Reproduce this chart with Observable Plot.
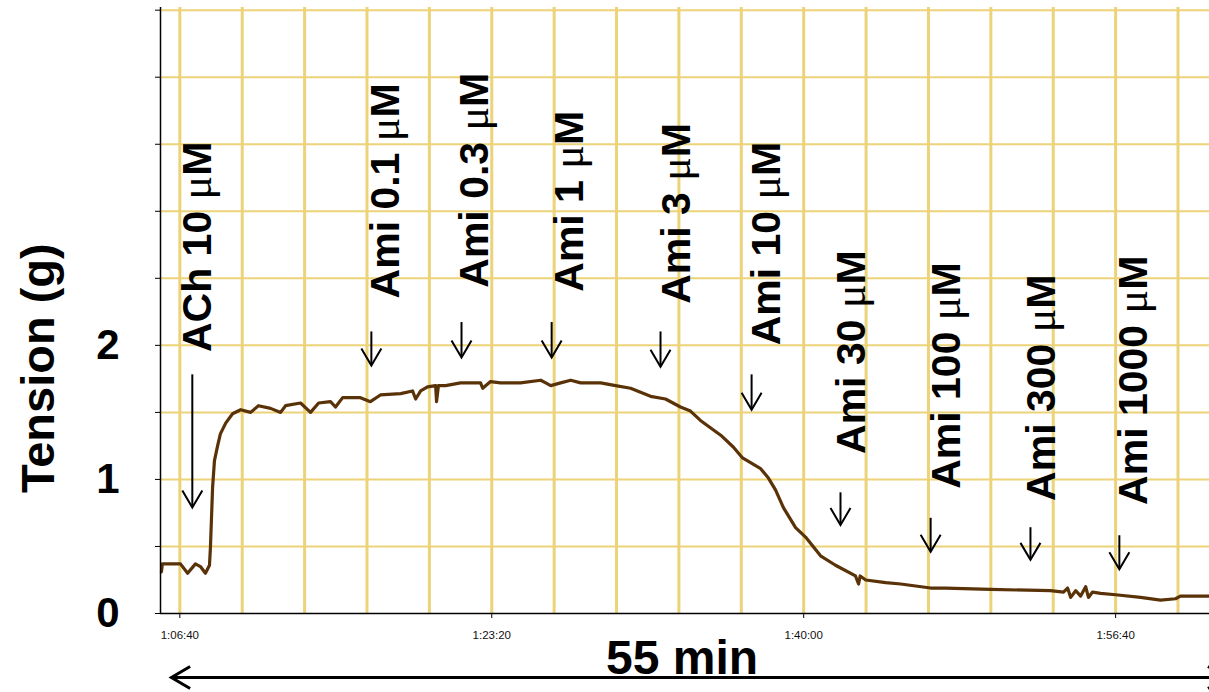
<!DOCTYPE html>
<html>
<head>
<meta charset="utf-8">
<script src="https://cdn.jsdelivr.net/npm/d3@7"></script>
<script src="https://cdn.jsdelivr.net/npm/@observablehq/plot@0.6"></script>
<style>
  html, body { margin: 0; padding: 0; background: #fff; }
  #chart svg { display: block; }
</style>
</head>
<body>
<div id="chart"></div>
<script>
// ---- Data (time in seconds, tension in g) ----
const timeS = [3941, 3944, 3970, 4002, 4025, 4050, 4066, 4082, 4095, 4098,
  4105, 4111, 4121, 4130, 4147, 4169, 4195, 4227, 4252, 4291,
  4323, 4339, 4387, 4419, 4445, 4483, 4499, 4522, 4579, 4611,
  4643, 4708, 4746, 4756, 4772, 4794, 4820, 4823, 4829, 4852,
  4900, 4964, 4971, 4996, 5028, 5092, 5157, 5173, 5189, 5221,
  5253, 5285, 5349, 5397, 5445, 5477, 5509, 5557, 5605, 5637,
  5669, 5734, 5775, 5804, 5862, 5887, 5910, 5935, 5974, 6006,
  6054, 6102, 6166, 6176, 6181, 6199, 6263, 6311, 6407, 6455,
  6599, 6791, 6833, 6846, 6856, 6872, 6888, 6904, 6913, 6926,
  6952, 7000, 7080, 7144, 7192, 7208, 7301];
const tension = [0.31, 0.37, 0.37, 0.37, 0.30, 0.37, 0.35, 0.30, 0.36, 0.49,
  0.94, 1.14, 1.25, 1.34, 1.42, 1.49, 1.52, 1.50, 1.55, 1.53,
  1.50, 1.55, 1.57, 1.50, 1.57, 1.58, 1.54, 1.61, 1.61, 1.58,
  1.63, 1.64, 1.66, 1.60, 1.66, 1.69, 1.70, 1.58, 1.70, 1.70,
  1.72, 1.72, 1.68, 1.73, 1.72, 1.72, 1.74, 1.72, 1.70, 1.72,
  1.74, 1.72, 1.72, 1.70, 1.68, 1.65, 1.62, 1.60, 1.54, 1.51,
  1.44, 1.33, 1.24, 1.16, 1.08, 1.01, 0.92, 0.79, 0.64, 0.57,
  0.43, 0.36, 0.28, 0.22, 0.28, 0.25, 0.23, 0.22, 0.19, 0.19,
  0.18, 0.17, 0.16, 0.19, 0.12, 0.17, 0.13, 0.20, 0.12, 0.16,
  0.15, 0.14, 0.12, 0.10, 0.11, 0.13, 0.13];

// axis ticks
const timeTicks = [4000, 5000, 6000, 7000];
const timeGrid = [4000, 4200, 4400, 4600, 4800, 5000, 5200, 5400, 5600, 5800,
  6000, 6200, 6400, 6600, 6800, 7000, 7200];
const tensionTicks = [0, 0.5, 1, 1.5, 2, 2.5, 3, 3.5, 4, 4.5];
const tensionGrid = [0.5, 1, 1.5, 2, 2.5, 3, 3.5, 4, 4.5];
const tensionLabeled = [0, 1, 2];
const timeDomain = [3938, 7301];
const tensionDomain = [0, 4.52];

// drug additions
const drugLabels = ["ACh 10 μM", "Ami 0.1 μM", "Ami 0.3 μM", "Ami 1 μM", "Ami 3 μM",
  "Ami 10 μM", "Ami 30 μM", "Ami 100 μM", "Ami 300 μM", "Ami 1000 μM"];
const labelTime = [4057, 4660, 4945, 5249, 5592, 5881, 6154, 6458, 6763, 7058];
const labelTension = [1.95, 2.35, 2.43, 2.40, 2.31, 2.00, 1.19, 0.93, 0.84, 0.81];
const arrowTime = [4040, 4614, 4903, 5192, 5541, 5833, 6118, 6407, 6727, 7012];
const arrowTop = [1.78, 2.10, 2.17, 2.17, 2.10, 1.78, 0.90, 0.71, 0.64, 0.58];
const arrowTip = [0.79, 1.85, 1.91, 1.91, 1.84, 1.52, 0.66, 0.46, 0.40, 0.33];

// span annotation
const spanLabel = "55 min";
const spanStart = 3973;
const spanEnd = 7356;
const spanLabelTime = 5610;
const yTitle = "Tension (g)";
const yTitleTension = 1.83;

// ---- Build ----
const trace = timeS.map((t, i) => ({t, v: tension[i]}));
const drugs = drugLabels.map((label, i) => ({
  label, lt: labelTime[i], lv: labelTension[i], at: arrowTime[i], top: arrowTop[i], tip: arrowTip[i]
}));

const fmtTime = (s) => {
  const h = Math.floor(s / 3600), m = Math.floor((s % 3600) / 60), sec = s % 60;
  return `${h}:${String(m).padStart(2, "0")}:${String(sec).padStart(2, "0")}`;
};

// open V arrowhead, tip at origin, pointing down
const chevron = {
  draw(ctx, size) {
    const r = Math.sqrt(size / Math.PI);
    ctx.moveTo(-r, -1.7 * r);
    ctx.lineTo(0, 0);
    ctx.lineTo(r, -1.7 * r);
  }
};

const FONT = "'Liberation Sans', Arial, Helvetica, sans-serif";
const GRID = "#ecd379";
const TRACE = "#5a3208";

const chart = Plot.plot({
  width: 1209,
  height: 692,
  marginLeft: 160,
  marginRight: 0,
  marginTop: 7,
  marginBottom: 79,
  style: {fontFamily: FONT, fontSize: "11px", background: "#fff", color: "#000"},
  x: {type: "linear", domain: timeDomain},
  y: {type: "linear", domain: tensionDomain},
  marks: [
    Plot.gridX(timeGrid, {stroke: GRID, strokeOpacity: 1, strokeWidth: 3}),
    Plot.gridY(tensionGrid, {stroke: GRID, strokeOpacity: 1, strokeWidth: 2}),
    Plot.line(trace, {x: "t", y: "v", stroke: TRACE, strokeWidth: 3.2, strokeLinejoin: "round"}),
    Plot.ruleY([0], {stroke: "#000", strokeWidth: 1.5}),
    Plot.ruleX([timeDomain[0]], {stroke: "#000", strokeWidth: 1.5}),
    Plot.axisX({ticks: timeTicks, tickFormat: fmtTime, tickSize: 5, tickPadding: 12,
      fontSize: 11.5, label: null, stroke: "#000", fill: "#111"}),
    Plot.axisY({ticks: tensionTicks, tickFormat: (d) => tensionLabeled.includes(d) ? String(d) : "",
      tickSize: 5, tickPadding: 36, fontSize: 42, fontWeight: "bold", label: null,
      stroke: "#000", fill: "#000"}),
    // y title
    Plot.text([{label: yTitle, v: yTitleTension}], {text: "label", y: "v", frameAnchor: "left",
      dx: -122, rotate: -90, fontSize: 47, fontWeight: "bold", fill: "#000", textAnchor: "middle", lineAnchor: "middle"}),
    // drug labels
    Plot.text(drugs, {text: "label", x: "lt", y: "lv", rotate: -90, textAnchor: "start",
      lineAnchor: "middle", fontSize: 41, fontWeight: "bold", fill: "#000"}),
    // arrows
    Plot.ruleX(drugs, {x: "at", y1: "top", y2: "tip", stroke: "#000", strokeWidth: 2}),
    Plot.dot(drugs, {x: "at", y: "tip", symbol: chevron, r: 10, fill: "none", stroke: "#000", strokeWidth: 2}),
    // span arrow and label
    Plot.link([{a: spanStart, b: spanEnd, v: 0}], {x1: "a", x2: "b", y1: "v", y2: "v", dy: 64,
      stroke: "#000", strokeWidth: 3}),
    Plot.dot([{t: spanStart, v: 0, rot: 90}, {t: spanEnd, v: 0, rot: -90}], {x: "t", y: "v", rotate: "rot", dy: 64,
      symbol: chevron, r: 11, fill: "none", stroke: "#000", strokeWidth: 3}),
    Plot.text([{label: spanLabel, t: spanLabelTime, v: 0}], {text: "label", x: "t", y: "v", dy: 60,
      lineAnchor: "bottom", textAnchor: "middle", fontSize: 48, fontWeight: "bold", fill: "#000"})
  ]
});

// render the micro sign in a lighter symbol-style face, as in the original
d3.select(chart).selectAll("text").each(function () {
  const el = this;
  if (el.childElementCount > 0) return;
  const s = el.textContent;
  const i = s.indexOf("μ");
  if (i < 0) return;
  el.textContent = "";
  const parts = [[s.slice(0, i), null], ["μ", "mu"], [s.slice(i + 1), null]];
  for (const [txt, cls] of parts) {
    if (!txt) continue;
    const ts = document.createElementNS("http://www.w3.org/2000/svg", "tspan");
    ts.textContent = txt;
    if (cls) {
      ts.setAttribute("font-family", "'Liberation Serif', 'DejaVu Serif', serif");
      ts.setAttribute("font-weight", "normal");
      ts.setAttribute("font-size", "44");
    }
    el.appendChild(ts);
  }
});

document.getElementById("chart").appendChild(chart);
</script>
</body>
</html>
